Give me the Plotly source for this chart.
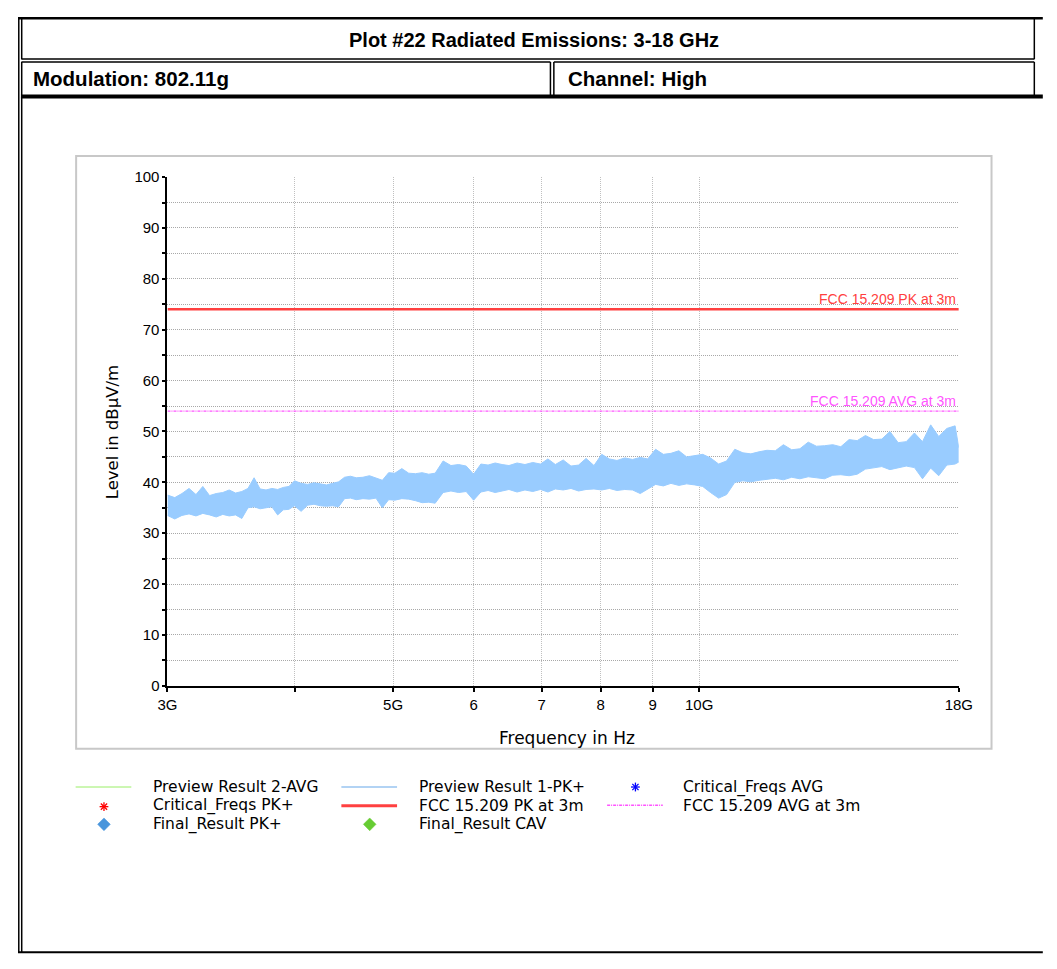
import math
import plotly.graph_objects as go

# The page body keeps the browser's default 8px margin, so the figure is sized to fill
# the 1057x969 window exactly inside it; reference pixel positions are shifted by OFF.
PAGE_W, PAGE_H = 1057, 969
OFF = 8
W, H = PAGE_W - 2 * OFF, PAGE_H - 2 * OFF

# ---------------- data ----------------
freq_ghz = [3.00, 3.05, 3.10, 3.15, 3.20, 3.25, 3.30, 3.35, 3.40, 3.45, 3.50, 3.55, 3.60, 3.65, 3.70,
            3.75, 3.80, 3.85, 3.90, 3.95, 4.00, 4.06, 4.12, 4.18, 4.24, 4.30, 4.36, 4.42, 4.48, 4.54,
            4.60, 4.67, 4.74, 4.81, 4.88, 4.95, 5.02, 5.10, 5.18, 5.26, 5.34, 5.42, 5.50, 5.60, 5.70,
            5.80, 5.90, 6.00, 6.10, 6.20, 6.30, 6.40, 6.50, 6.62, 6.74, 6.86, 6.98, 7.10, 7.22, 7.35,
            7.48, 7.61, 7.74, 7.88, 8.02, 8.16, 8.30, 8.45, 8.60, 8.75, 8.90, 9.06, 9.22, 9.38, 9.55,
            9.72, 9.90, 10.08, 10.26, 10.45, 10.64, 10.84, 11.04, 11.24, 11.45, 11.66, 11.88, 12.10,
            12.33, 12.56, 12.80, 13.04, 13.28, 13.53, 13.78, 14.04, 14.30, 14.57, 14.84, 15.12, 15.40,
            15.69, 15.98, 16.28, 16.58, 16.89, 17.20, 17.52, 17.85, 18.00]

# Preview Result 1-PK+ : upper / lower envelope of the noisy trace (dBuV/m)
pk_upper = [37.5, 37.0, 37.8, 38.8, 37.6, 39.2, 37.4, 37.8, 38.0, 38.5, 37.9, 38.2, 38.8, 40.9, 38.7,
            38.5, 38.8, 38.6, 39.0, 39.2, 40.3, 39.8, 39.6, 39.9, 39.7, 39.5, 39.8, 40.1, 41.0, 41.2,
            40.9, 41.0, 41.3, 40.9, 40.4, 41.9, 41.8, 42.7, 41.8, 41.7, 41.9, 41.6, 41.8, 44.2, 43.3,
            43.5, 43.2, 41.6, 43.6, 43.4, 43.8, 43.5, 43.3, 43.8, 43.5, 43.9, 43.6, 44.6, 43.5, 44.4,
            43.2, 43.4, 44.7, 43.3, 45.5, 44.6, 44.3, 44.8, 44.5, 44.9, 44.6, 46.5, 45.5, 45.7, 46.2,
            45.0, 45.3, 45.5, 44.8, 43.6, 44.2, 46.5, 45.8, 45.6, 46.0, 46.3, 46.2, 47.4,
            46.4, 46.6, 47.9, 47.1, 47.2, 47.4, 47.0, 48.4, 48.2, 49.2, 48.4, 48.5, 50.0,
            47.8, 48.0, 49.7, 48.0, 51.3, 49.0, 50.6, 51.1, 46.8]
pk_lower = [33.5, 32.8, 33.5, 33.8, 33.4, 33.9, 33.6, 33.2, 33.7, 33.4, 33.6, 32.9, 35.0, 35.2, 34.8,
            35.0, 35.2, 33.6, 34.6, 34.7, 35.4, 34.3, 35.5, 35.7, 35.4, 35.3, 35.4, 35.2, 36.8, 36.9,
            36.6, 36.8, 36.7, 36.9, 35.0, 36.6, 36.5, 36.8, 36.7, 36.4, 36.0, 36.1, 35.9, 38.0, 38.3,
            38.0, 38.2, 36.5, 38.1, 38.4, 38.0, 38.3, 38.6, 38.1, 38.5, 38.2, 38.6, 38.1, 38.7, 38.5,
            38.8, 38.3, 38.6, 38.7, 38.5, 38.8, 38.4, 38.6, 38.5, 37.8, 38.6, 39.6, 39.3, 39.8, 39.4,
            39.7, 39.5, 39.2, 38.0, 36.9, 37.6, 40.0, 40.3, 40.1, 40.4, 40.6, 40.8, 40.5,
            41.0, 40.7, 41.1, 40.9, 40.7, 41.4, 41.5, 41.3, 41.6, 42.6, 42.9, 43.1, 42.5,
            42.8, 43.2, 42.9, 40.7, 42.8, 41.3, 43.4, 43.6, 44.0]

limit_freq_ghz = [3.0, 18.0]
fcc_pk_limit = [74.0, 74.0]
fcc_avg_limit = [54.0, 54.0]

x_tick_ghz = [3, 4, 5, 6, 7, 8, 9, 10, 18]
x_tick_text = ["3G", "", "5G", "6", "7", "8", "9", "10G", "18G"]
y_tick_vals = list(range(0, 101, 5))
y_tick_text = [str(v) if v % 10 == 0 else "" for v in y_tick_vals]

title_text = "Plot #22 Radiated Emissions: 3-18 GHz"
modulation_text = "Modulation: 802.11g"
channel_text = "Channel: High"
x_title = "Frequency in Hz"
y_title = "Level in dBµV/m"
pk_label = "FCC 15.209 PK at 3m"
avg_label = "FCC 15.209 AVG at 3m"
legend_names = ["Preview Result 2-AVG", "Preview Result 1-PK+", "Critical_Freqs AVG",
                "Critical_Freqs PK+", "FCC 15.209 PK at 3m", "FCC 15.209 AVG at 3m",
                "Final_Result PK+", "Final_Result CAV"]

# ---------------- styling ----------------
GHZ = 1e9
BAND = "#99ccff"
PK_RED = "#ff4040"
AVG_MAG = "#ff55ff"
ARIAL = "Liberation Sans, Arial, sans-serif"
WIDE = "DejaVu Sans, Liberation Sans, sans-serif"

f_hz = [f * GHZ for f in freq_ghz]
lim_hz = [f * GHZ for f in limit_freq_ghz]
x_ticks_hz = [f * GHZ for f in x_tick_ghz]
xr = [math.log10(lim_hz[0]), math.log10(lim_hz[1])]


def px(x):
    return (x - OFF) / W


def py(y):
    return 1 - (y - OFF) / H


XD = [px(161), px(971)]
YD = [py(689), py(171)]

shapes = []


def hline(x0, x1, y, color="black", width=1.5, dash=None):
    shapes.append(dict(type="line", xref="paper", yref="paper", x0=px(x0), x1=px(x1), y0=py(y), y1=py(y),
                       line=dict(color=color, width=width, dash=dash)))


def vline(x, y0, y1, color="black", width=1.5):
    shapes.append(dict(type="line", xref="paper", yref="paper", x0=px(x), x1=px(x), y0=py(y0), y1=py(y1),
                       line=dict(color=color, width=width)))


def path(points, close, color, fill=None, width=1.5):
    d = ""
    for i, (x, y) in enumerate(points):
        d += ("M" if i == 0 else "L") + "{:.6f},{:.6f} ".format(px(x), py(y))
    if close:
        d += "Z"
    shapes.append(dict(type="path", xref="paper", yref="paper", path=d,
                       line=dict(color=color, width=width), fillcolor=fill or "rgba(0,0,0,0)"))


def diamond(cx, cy, r, color):
    path([(cx, cy - r), (cx + r, cy), (cx, cy + r), (cx - r, cy)], True, color, fill=color, width=0.5)


def asterisk(cx, cy, r, color):
    k = r * 0.707
    for (dx, dy) in [(r, 0), (0, r), (k, k), (k, -k)]:
        path([(cx - dx, cy - dy), (cx + dx, cy + dy)], False, color, width=1.3)


RIGHT = 1048.3   # right cell border (page edge limit)
BOTTOM = 960.2   # bottom border (page edge limit)

# document table borders
vline(8.8, 8, BOTTOM)
hline(8, PAGE_W, 9.2, width=2.6)
vline(11.8, 9, 51)
vline(RIGHT, 9, 51)
hline(11.5, RIGHT, 50.8)
hline(11.5, 553, 53.8)
vline(11.8, 53.8, 88)
vline(553, 53.8, 88)
hline(556.5, RIGHT, 53.8)
vline(556.5, 53.8, 88)
vline(RIGHT, 53.8, 88)
hline(11, PAGE_W, 89, width=4)
vline(11.8, 89, BOTTOM)
hline(8, PAGE_W, BOTTOM, width=2)

# chart frame
shapes.append(dict(type="rect", xref="paper", yref="paper", x0=px(67.5), x1=px(1004.5), y0=py(753), y1=py(149.5),
                   line=dict(color="#c8c8c8", width=2), fillcolor="rgba(0,0,0,0)", layer="below"))

# legend samples
hline(67, 124, 792, color="#99ee66", width=1)
hline(339, 396, 792, color="#99c4f0", width=1.5)
hline(339, 396, 811, color=PK_RED, width=3)
hline(611, 668, 810.5, color=AVG_MAG, width=1.5, dash="3px,1px,1px,1px")
asterisk(96, 812, 4.5, "#ff0000")
asterisk(640, 792, 4.5, "#0000ff")
diamond(96, 830, 6.5, "#4a96dc")
diamond(368, 830, 6.5, "#66cc33")

fig = go.Figure()
fig.add_trace(go.Scatter(x=f_hz, y=pk_lower, mode="lines", line=dict(color=BAND, width=1),
                         hoverinfo="skip", showlegend=False))
fig.add_trace(go.Scatter(x=f_hz, y=pk_upper, mode="lines", line=dict(color=BAND, width=1),
                         fill="tonexty", fillcolor=BAND, name=legend_names[1], showlegend=False))
fig.add_trace(go.Scatter(x=lim_hz, y=fcc_pk_limit, mode="lines", line=dict(color=PK_RED, width=2.5),
                         name=legend_names[4], showlegend=False))
fig.add_trace(go.Scatter(x=lim_hz, y=fcc_avg_limit, mode="lines",
                         line=dict(color=AVG_MAG, width=1.2, dash="3px,1px,1px,1px"),
                         name=legend_names[5], showlegend=False))

annotations = [
    dict(text="<b>" + title_text + "</b>", x=px(536), y=py(31), font=dict(family=ARIAL, size=20, color="black"),
         xanchor="center", yanchor="middle"),
    dict(text="<b>" + modulation_text + "</b>", x=px(21), y=py(71), font=dict(family=ARIAL, size=20.5, color="black"),
         xanchor="left", yanchor="middle"),
    dict(text="<b>" + channel_text + "</b>", x=px(569), y=py(71), font=dict(family=ARIAL, size=20.5, color="black"),
         xanchor="left", yanchor="middle"),
    dict(text=y_title, x=px(105), y=py(431), textangle=-90, font=dict(family=WIDE, size=16.5, color="black"),
         xanchor="center", yanchor="middle"),
    dict(text=x_title, x=px(570), y=py(742), font=dict(family=WIDE, size=17, color="black"),
         xanchor="center", yanchor="middle"),
    dict(text=pk_label, xref="x", yref="y", x=xr[1], y=fcc_pk_limit[1], xanchor="right", yanchor="bottom",
         xshift=-1, yshift=0, font=dict(family=ARIAL, size=14, color=PK_RED)),
    dict(text=avg_label, xref="x", yref="y", x=xr[1], y=fcc_avg_limit[1], xanchor="right", yanchor="bottom",
         xshift=-1, yshift=0, font=dict(family=ARIAL, size=14, color=AVG_MAG)),
]
legend_pos = [(144, 792), (416, 792), (687, 792),
              (144, 811), (416, 811), (687, 811),
              (144, 830), (416, 830)]
for name, (lx, ly) in zip(legend_names, legend_pos):
    annotations.append(dict(text=name, x=px(lx), y=py(ly), xanchor="left", yanchor="middle",
                            font=dict(family=WIDE, size=15.5, color="black")))
for a in annotations:
    a.setdefault("xref", "paper")
    a.setdefault("yref", "paper")
    a["showarrow"] = False

tickfont = dict(family=ARIAL, size=15, color="black")
fig.update_layout(
    width=W, height=H, margin=dict(l=0, r=0, t=0, b=0),
    paper_bgcolor="white", plot_bgcolor="white", showlegend=False,
    xaxis=dict(type="log", domain=XD, range=xr, tickvals=x_ticks_hz, ticktext=x_tick_text,
               ticks="outside", ticklen=4, tickwidth=1.5, tickcolor="black",
               showline=True, linecolor="black", linewidth=2,
               showgrid=True, gridcolor="#c0c0c0", griddash="1px,1px", gridwidth=1,
               zeroline=False, tickfont=tickfont, fixedrange=True, anchor="y"),
    yaxis=dict(domain=YD, range=[0, 100], tickvals=y_tick_vals, ticktext=y_tick_text,
               ticks="outside", ticklen=3, tickwidth=1.5, tickcolor="black",
               showline=True, linecolor="black", linewidth=2,
               showgrid=True, gridcolor="#a8a8a8", griddash="1px,1px", gridwidth=1,
               zeroline=False, tickfont=tickfont, fixedrange=True, anchor="x"),
    # overlay axes carrying the inner half of the crossing tick marks
    xaxis2=dict(type="log", overlaying="x", anchor="y", side="bottom", range=xr, tickvals=x_ticks_hz,
                ticks="inside", ticklen=3, tickwidth=1.5, tickcolor="black", showticklabels=False,
                showgrid=False, showline=False, zeroline=False, fixedrange=True),
    yaxis2=dict(overlaying="y", anchor="x", side="left", range=[0, 100], tickvals=y_tick_vals,
                ticks="inside", ticklen=5, tickwidth=1.5, tickcolor="black", showticklabels=False,
                showgrid=False, showline=False, zeroline=False, fixedrange=True),
    shapes=shapes, annotations=annotations,
)

fig.write_html("out.html", config={"displayModeBar": False})
